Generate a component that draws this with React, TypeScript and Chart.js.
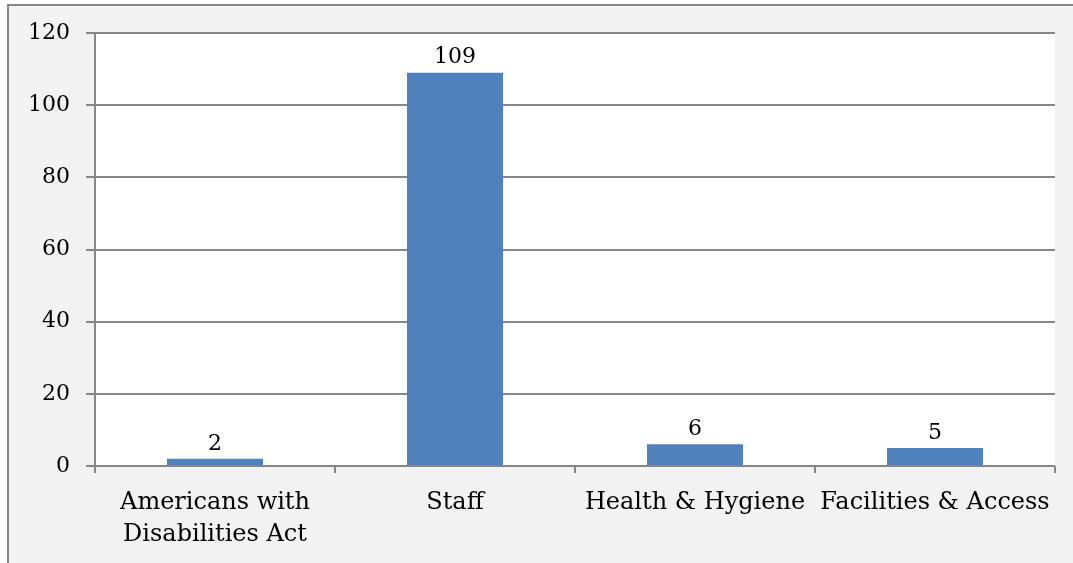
import React, { useEffect, useRef } from "react";
import { Chart, registerables } from "chart.js";

Chart.register(...registerables);

const categories: (string | string[])[] = [
  ["Americans with", "Disabilities Act"],
  "Staff",
  "Health & Hygiene",
  "Facilities & Access",
];
const counts = [2, 109, 6, 5];
const yTicks = [0, 20, 40, 60, 80, 100, 120];

const FONT = "'DejaVu Serif', serif";

const plotBg = {
  id: "plotBg",
  beforeDraw(chart: any) {
    const { ctx, chartArea } = chart;
    ctx.save();
    ctx.fillStyle = "#ffffff";
    ctx.fillRect(chartArea.left, chartArea.top, chartArea.right - chartArea.left, chartArea.bottom - chartArea.top);
    ctx.restore();
  },
};

const valueLabels = {
  id: "valueLabels",
  afterDatasetsDraw(chart: any) {
    const { ctx } = chart;
    const meta = chart.getDatasetMeta(0);
    ctx.save();
    ctx.font = `22px ${FONT}`;
    ctx.fillStyle = "#000";
    ctx.textAlign = "center";
    ctx.textBaseline = "middle";
    meta.data.forEach((bar: any, i: number) => {
      ctx.fillText(String(counts[i]), bar.x, bar.y - 15);
    });
    ctx.restore();
  },
};

export default function App() {
  const ref = useRef<HTMLCanvasElement | null>(null);
  useEffect(() => {
    if (!ref.current) return;
    const chart = new Chart(ref.current, {
      type: "bar",
      data: {
        labels: categories,
        datasets: [
          {
            data: counts,
            backgroundColor: "#4f81bd",
            borderWidth: 0,
            barPercentage: 0.4,
            categoryPercentage: 1,
          },
        ],
      },
      options: {
        animation: false,
        responsive: false,
        maintainAspectRatio: false,
        layout: { padding: { left: 0, right: 18, top: 33, bottom: 0 } },
        plugins: { legend: { display: false }, tooltip: { enabled: false } },
        scales: {
          x: {
            grid: {
              offset: true,
              drawOnChartArea: false,
              drawTicks: true,
              tickLength: 7,
              color: "#878787",
              lineWidth: 2,
            },
            border: { display: false },
            ticks: {
              color: "#000",
              font: { family: FONT, size: 24, lineHeight: 1.33 },
              padding: 14,
              maxRotation: 0,
              autoSkip: false,
            },
            afterFit(scale: any) {
              scale.height = 97;
            },
          },
          y: {
            min: 0,
            max: 120,
            afterBuildTicks(scale: any) {
              scale.ticks = yTicks.map((v) => ({ value: v }));
            },
            grid: {
              color: "#878787",
              lineWidth: 2,
              tickLength: 9,
            },
            border: { display: true, color: "#878787", width: 2 },
            ticks: {
              color: "#000",
              font: { family: FONT, size: 22 },
              padding: 16,
            },
            afterFit(scale: any) {
              scale.width = 95;
            },
          },
        },
      },
      plugins: [plotBg, valueLabels],
    });
    return () => chart.destroy();
  }, []);

  return (
    <div
      style={{
        position: "fixed",
        left: 0,
        top: 0,
        width: 1073,
        height: 563,
        background: "#ffffff",
        overflow: "hidden",
      }}
    >
      <div
        style={{
          position: "absolute",
          left: 7,
          top: 4,
          width: 1200,
          height: 700,
          background: "#f2f2f2",
          borderTop: "2px solid #878787",
          borderLeft: "2px solid #878787",
        }}
      />
      <canvas
        ref={ref}
        width={1073}
        height={563}
        style={{ position: "absolute", left: 0, top: 0, width: 1073, height: 563 }}
      />
    </div>
  );
}
